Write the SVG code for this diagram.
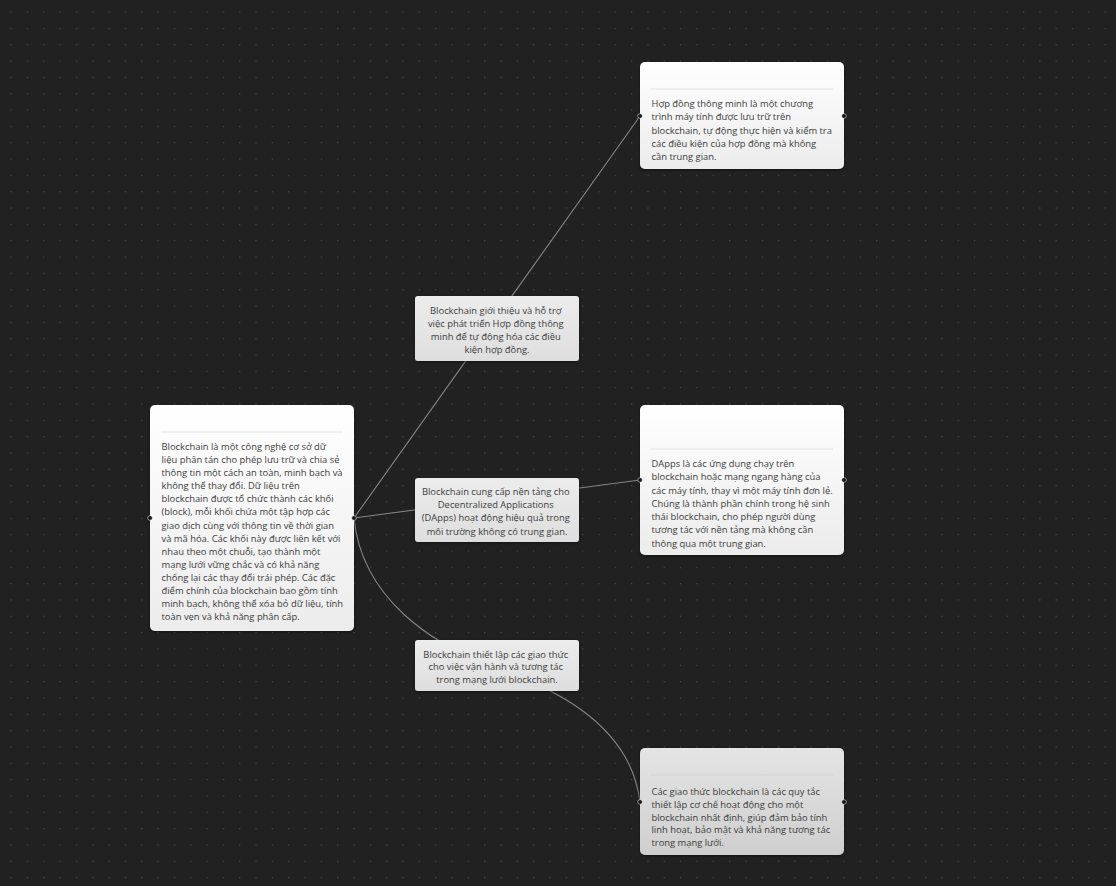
<svg xmlns="http://www.w3.org/2000/svg" width="1116" height="886" viewBox="0 0 1116 886">
<defs>
<pattern id="dots" x="10.5" y="11.5" width="16.33" height="16.33" patternUnits="userSpaceOnUse">
<rect x="0" y="0" width="1.2" height="1.2" fill="#4a4a4a"/>
</pattern>
<linearGradient id="gWhite" x1="0" y1="0" x2="0" y2="1">
<stop offset="0" stop-color="#ffffff"/><stop offset="1" stop-color="#ececec"/>
</linearGradient>
<linearGradient id="gLabel" x1="0" y1="0" x2="0" y2="1">
<stop offset="0" stop-color="#ececec"/><stop offset="1" stop-color="#dedede"/>
</linearGradient>
<linearGradient id="gGray" x1="0" y1="0" x2="0" y2="1">
<stop offset="0" stop-color="#e4e4e4"/><stop offset="1" stop-color="#cfcfcf"/>
</linearGradient>
<filter id="sh" x="-10%" y="-10%" width="120%" height="120%">
<feDropShadow dx="0" dy="1" stdDeviation="1.5" flood-color="#000" flood-opacity="0.5"/>
</filter>
</defs>
<style>
.t{font-family:"Open Sans","Noto Sans",sans-serif;font-size:9.4px;fill:#3c3c3c}
.c{text-anchor:middle}
.sep{stroke:#e2e2e2;stroke-width:1}
.port{fill:#111;stroke:#ddd;stroke-width:0.6}
.edge{fill:none;stroke:#858585;stroke-width:1.1}
</style>
<rect width="1116" height="886" fill="#212121"/>
<rect width="1116" height="886" fill="url(#dots)"/>

<g id="connectors">
<path class="edge" d="M354,518 L640,116"/>
<path class="edge" d="M354,518 L640,480"/>
<path class="edge" d="M354,518 C362,600 435,645 490,665 C545,685 630,720 640,802"/>
</g>

<g id="node-main">
<rect x="150" y="405" width="204" height="226" rx="5" fill="url(#gWhite)" filter="url(#sh)"/>
<line class="sep" x1="161" y1="432" x2="343" y2="432"/>
<text class="t">
<tspan x="161.5" y="450">Blockchain là một công nghệ cơ sở dữ</tspan>
<tspan x="161.5" y="463.1">liệu phân tán cho phép lưu trữ và chia sẻ</tspan>
<tspan x="161.5" y="476.2">thông tin một cách an toàn, minh bạch và</tspan>
<tspan x="161.5" y="489.2">không thể thay đổi. Dữ liệu trên</tspan>
<tspan x="161.5" y="502.3">blockchain được tổ chức thành các khối</tspan>
<tspan x="161.5" y="515.4">(block), mỗi khối chứa một tập hợp các</tspan>
<tspan x="161.5" y="528.5">giao dịch cùng với thông tin về thời gian</tspan>
<tspan x="161.5" y="541.6">và mã hóa. Các khối này được liên kết với</tspan>
<tspan x="161.5" y="554.6">nhau theo một chuỗi, tạo thành một</tspan>
<tspan x="161.5" y="567.7">mạng lưới vững chắc và có khả năng</tspan>
<tspan x="161.5" y="580.8">chống lại các thay đổi trái phép. Các đặc</tspan>
<tspan x="161.5" y="593.9">điểm chính của blockchain bao gồm tính</tspan>
<tspan x="161.5" y="607">minh bạch, không thể xóa bỏ dữ liệu, tính</tspan>
<tspan x="161.5" y="620">toàn vẹn và khả năng phân cấp.</tspan>
</text>
<circle class="port" cx="150" cy="518" r="2.3"/>
<circle class="port" cx="354" cy="518" r="2.3"/>
</g>

<g id="label-1">
<rect x="415" y="296" width="164" height="65" rx="3" fill="url(#gLabel)" filter="url(#sh)"/>
<text class="t c">
<tspan x="497" y="313.5">Blockchain giới thiệu và hỗ trợ</tspan>
<tspan x="497" y="326.8">việc phát triển Hợp đồng thông</tspan>
<tspan x="497" y="340.1">minh để tự động hóa các điều</tspan>
<tspan x="497" y="353.4">kiện hợp đồng.</tspan>
</text>
</g>

<g id="label-2">
<rect x="415" y="478" width="164" height="64" rx="3" fill="url(#gLabel)" filter="url(#sh)"/>
<text class="t c">
<tspan x="497" y="494.5">Blockchain cung cấp nền tảng cho</tspan>
<tspan x="497" y="507.9">Decentralized Applications</tspan>
<tspan x="497" y="521.3">(DApps) hoạt động hiệu quả trong</tspan>
<tspan x="497" y="534.7">môi trường không có trung gian.</tspan>
</text>
</g>

<g id="label-3">
<rect x="415" y="640" width="164" height="51" rx="3" fill="url(#gLabel)" filter="url(#sh)"/>
<text class="t c">
<tspan x="497" y="657.5">Blockchain thiết lập các giao thức</tspan>
<tspan x="497" y="670.2">cho việc vận hành và tương tác</tspan>
<tspan x="497" y="682.9">trong mạng lưới blockchain.</tspan>
</text>
</g>

<g id="node-smart-contract">
<rect x="640" y="62" width="204" height="107" rx="5" fill="url(#gWhite)" filter="url(#sh)"/>
<line class="sep" x1="651" y1="89" x2="833" y2="89"/>
<text class="t">
<tspan x="651.5" y="107">Hợp đồng thông minh là một chương</tspan>
<tspan x="651.5" y="120.3">trình máy tính được lưu trữ trên</tspan>
<tspan x="651.5" y="133.6">blockchain, tự động thực hiện và kiểm tra</tspan>
<tspan x="651.5" y="146.9">các điều kiện của hợp đồng mà không</tspan>
<tspan x="651.5" y="160">cần trung gian.</tspan>
</text>
<circle class="port" cx="640" cy="116" r="2.3"/>
<circle class="port" cx="844" cy="116" r="2.3"/>
</g>

<g id="node-dapps">
<rect x="640" y="405" width="204" height="150" rx="5" fill="url(#gWhite)" filter="url(#sh)"/>
<line class="sep" x1="651" y1="449" x2="833" y2="449"/>
<text class="t">
<tspan x="651.5" y="467">DApps là các ứng dụng chạy trên</tspan>
<tspan x="651.5" y="480.3">blockchain hoặc mạng ngang hàng của</tspan>
<tspan x="651.5" y="493.5">các máy tính, thay vì một máy tính đơn lẻ.</tspan>
<tspan x="651.5" y="506.8">Chúng là thành phần chính trong hệ sinh</tspan>
<tspan x="651.5" y="520">thái blockchain, cho phép người dùng</tspan>
<tspan x="651.5" y="533.3">tương tác với nền tảng mà không cần</tspan>
<tspan x="651.5" y="546.5">thông qua một trung gian.</tspan>
</text>
<circle class="port" cx="640" cy="480" r="2.3"/>
<circle class="port" cx="844" cy="480" r="2.3"/>
</g>

<g id="node-protocols">
<rect x="640" y="748" width="204" height="107" rx="5" fill="url(#gGray)" filter="url(#sh)"/>
<line class="sep" x1="651" y1="775" x2="833" y2="775" style="stroke:#d2d2d2"/>
<text class="t">
<tspan x="651.5" y="795">Các giao thức blockchain là các quy tắc</tspan>
<tspan x="651.5" y="807.8">thiết lập cơ chế hoạt động cho một</tspan>
<tspan x="651.5" y="820.5">blockchain nhất định, giúp đảm bảo tính</tspan>
<tspan x="651.5" y="833.3">linh hoạt, bảo mật và khả năng tương tác</tspan>
<tspan x="651.5" y="846">trong mạng lưới.</tspan>
</text>
<circle class="port" cx="640" cy="802" r="2.3"/>
<circle class="port" cx="844" cy="802" r="2.3"/>
</g>
</svg>
